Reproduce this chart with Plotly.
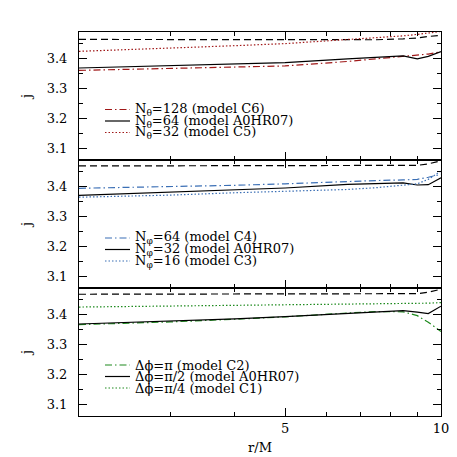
import plotly.graph_objects as go
from plotly.subplots import make_subplots

# radius grid (r/M) shared by every curve
r = [2.0, 3.0, 4.0, 5.0, 6.6, 7.5, 8.45, 9.0, 9.45, 10.0]

# top panel: resolution in theta
top_ref = [3.465, 3.465, 3.465, 3.465, 3.463, 3.464, 3.467, 3.470, 3.475, 3.479]
top_c6 = [3.361, 3.367, 3.372, 3.376, 3.391, 3.400, 3.408, 3.411, 3.416, 3.423]
top_a0 = [3.369, 3.376, 3.382, 3.387, 3.400, 3.405, 3.410, 3.400, 3.408, 3.424]
top_c5 = [3.425, 3.435, 3.444, 3.451, 3.464, 3.470, 3.477, 3.482, 3.487, 3.492]

# middle panel: resolution in phi
mid_ref = [3.470, 3.470, 3.470, 3.470, 3.470, 3.470, 3.471, 3.472, 3.477, 3.487]
mid_c4 = [3.395, 3.400, 3.405, 3.410, 3.419, 3.421, 3.423, 3.425, 3.432, 3.442]
mid_a0 = [3.371, 3.381, 3.390, 3.396, 3.408, 3.410, 3.413, 3.406, 3.407, 3.430]
mid_c3 = [3.365, 3.372, 3.380, 3.384, 3.391, 3.397, 3.405, 3.410, 3.425, 3.453]

# bottom panel: azimuthal extent
bot_ref = [3.469, 3.469, 3.469, 3.469, 3.469, 3.469, 3.470, 3.471, 3.476, 3.486]
bot_c2 = [3.367, 3.376, 3.385, 3.393, 3.406, 3.411, 3.410, 3.397, 3.375, 3.344]
bot_a0 = [3.369, 3.378, 3.386, 3.394, 3.405, 3.410, 3.414, 3.409, 3.404, 3.429]
bot_c1 = [3.426, 3.429, 3.431, 3.432, 3.435, 3.436, 3.437, 3.438, 3.439, 3.441]

RED = '#a01818'
BLUE = '#3b6fb5'
GREEN = '#1e8a1e'
DASH = '7px,4px'
DOT = '1.5px,2px'
DASHDOT = '7px,3px,1.5px,3px'

panels = [
    (top_ref, [
        (top_c6, RED, DASHDOT, 'N<sub>θ</sub>=128 (model C6)'),
        (top_a0, 'black', 'solid', 'N<sub>θ</sub>=64 (model A0HR07)'),
        (top_c5, RED, DOT, 'N<sub>θ</sub>=32 (model C5)'),
    ], [101.5, 113, 124.5]),
    (mid_ref, [
        (mid_c4, BLUE, DASHDOT, 'N<sub>φ</sub>=64 (model C4)'),
        (mid_a0, 'black', 'solid', 'N<sub>φ</sub>=32 (model A0HR07)'),
        (mid_c3, BLUE, DOT, 'N<sub>φ</sub>=16 (model C3)'),
    ], [230, 241.5, 253]),
    (bot_ref, [
        (bot_c2, GREEN, DASHDOT, 'Δϕ=π (model C2)'),
        (bot_a0, 'black', 'solid', 'Δϕ=π/2 (model A0HR07)'),
        (bot_c1, GREEN, DOT, 'Δϕ=π/4 (model C1)'),
    ], [357, 368.5, 380]),
]

W, H = 457, 457
L, R, T, B = 71, 433, 24, 408


def px_x(px):
    return (px - L) / (R - L)


def px_y(py):
    return (B - py) / (B - T)


fig = make_subplots(rows=3, cols=1, shared_xaxes=True, vertical_spacing=0)
font = dict(family='DejaVu Serif', size=13, color='black')

for row, (ref, series, legend_y) in enumerate(panels, start=1):
    fig.add_trace(go.Scatter(x=r, y=ref, mode='lines', showlegend=False,
                             line=dict(color='black', width=1.2, dash=DASH)),
                  row=row, col=1)
    for (vals, color, dash, label), ly in zip(series, legend_y):
        fig.add_trace(go.Scatter(x=r, y=vals, mode='lines', showlegend=False,
                                 line=dict(color=color, width=1.2, dash=dash)),
                      row=row, col=1)
        # legend sample line + label
        fig.add_shape(type='line', xref='paper', yref='paper',
                      x0=px_x(97), x1=px_x(122), y0=px_y(ly), y1=px_y(ly),
                      line=dict(color=color, width=1.2, dash=dash))
        fig.add_annotation(x=px_x(126), y=px_y(ly), xref='paper', yref='paper',
                           text=label, showarrow=False, xanchor='left',
                           yanchor='middle', borderpad=0,
                           font=dict(family='DejaVu Serif', size=13, color='black'))

axis_common = dict(showline=True, linecolor='black', linewidth=1, mirror='ticks',
                   ticks='inside', tickcolor='black', tickwidth=1, showgrid=False,
                   zeroline=False)

fig.update_xaxes(type='log', range=[0.30103, 1.0], tickvals=[5, 10], ticktext=['5', '10'],
                 ticklen=8,
                 minor=dict(tickvals=[3, 4, 6, 7, 8, 9], ticklen=4, ticks='inside',
                            tickcolor='black', showgrid=False),
                 tickfont=font, **axis_common)
fig.update_xaxes(showticklabels=False, row=1, col=1)
fig.update_xaxes(showticklabels=False, row=2, col=1)
fig.update_xaxes(title=dict(text='r/M', font=font, standoff=8), row=3, col=1)

fig.update_yaxes(range=[3.06, 3.49], tickvals=[3.1, 3.2, 3.3, 3.4],
                 ticktext=['3.1', '3.2', '3.3', '3.4'], ticklen=8,
                 ticklabelstandoff=8,
                 minor=dict(tickvals=[3.15, 3.25, 3.35, 3.45], ticklen=4, ticks='inside',
                            tickcolor='black', showgrid=False),
                 tickfont=font, title=dict(text='j', font=font, standoff=12),
                 **axis_common)

fig.update_layout(
    width=W, height=H,
    margin=dict(l=L, r=W - R, t=T, b=H - B),
    plot_bgcolor='white', paper_bgcolor='white',
    showlegend=False,
)

fig.write_html('out.html')
